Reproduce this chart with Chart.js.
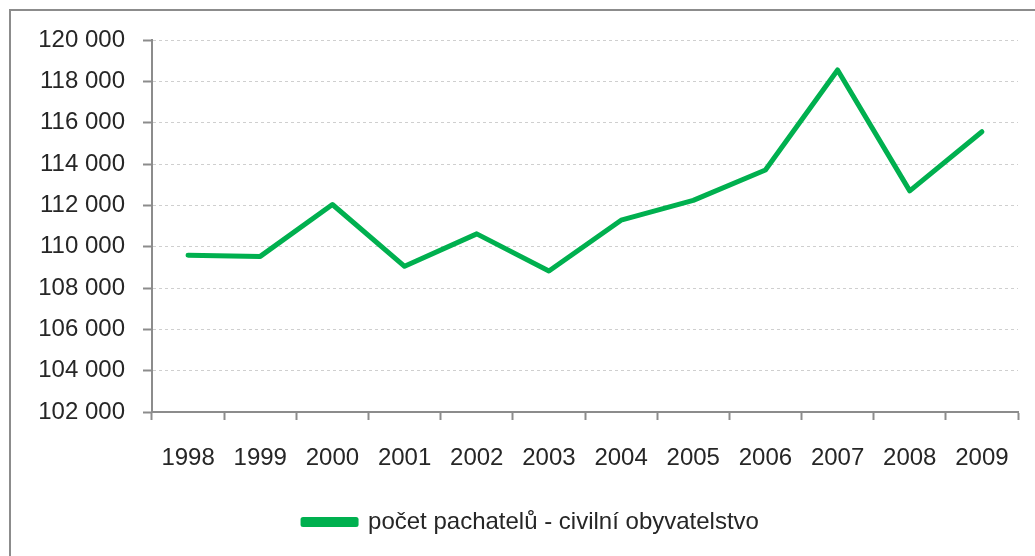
<!DOCTYPE html>
<html>
<head>
<meta charset="utf-8">
<script src="https://cdn.jsdelivr.net/npm/chart.js@4"></script>
<style>
  html, body { margin: 0; padding: 0; background: #fff; overflow: hidden; }
  #wrap { position: relative; width: 1035px; height: 556px; }
  #frame {
    position: absolute; left: 9px; top: 9px; width: 1100px; height: 600px;
    border: 2px solid #8c8c8c; box-sizing: border-box;
  }
  canvas { position: absolute; left: 0; top: 0; }
</style>
</head>
<body>
<div id="wrap">
  <div id="frame"></div>
  <canvas id="chart" width="1035" height="556"></canvas>
</div>
<script>
// data
const years = ['1998', '1999', '2000', '2001', '2002', '2003', '2004', '2005', '2006', '2007', '2008', '2009'];
const offenders = [109590, 109530, 112040, 109050, 110620, 108820, 111280, 112240, 113710, 118550, 112700, 115560];
const seriesLabel = 'počet pachatelů - civilní obyvatelstvo';
const yMin = 102000;
const yMax = 120000;
const yStep = 2000;

const fontFamily = '"Liberation Sans", Arial, sans-serif';
const textColor = '#262626';
const green = '#00b04f';

// cisla s mezerou jako oddelovacem tisicu
function formatThousands(v) {
  return String(v).replace(/\B(?=(\d{3})+(?!\d))/g, ' ');
}

// legenda je v originale trochu vpravo od stredu
const shiftLegend = {
  id: 'shiftLegend',
  afterLayout(chart) {
    chart.legend.left += 22;
    chart.legend.right += 22;
  }
};

const ctx = document.getElementById('chart').getContext('2d');
new Chart(ctx, {
  type: 'line',
  data: {
    labels: years,
    datasets: [{
      label: seriesLabel,
      data: offenders,
      borderColor: green,
      backgroundColor: green,
      borderWidth: 5,
      pointRadius: 0,
      pointHoverRadius: 0,
      tension: 0,
      borderJoinStyle: 'round',
      borderCapStyle: 'round'
    }]
  },
  plugins: [shiftLegend],
  options: {
    responsive: false,
    animation: false,
    devicePixelRatio: 1,
    layout: { padding: { left: 0, right: 17, top: 40, bottom: 12 } },
    scales: {
      x: {
        offset: true,
        grid: {
          offset: true,
          drawOnChartArea: false,
          drawTicks: true,
          tickLength: 8,
          tickColor: '#8c8c8c',
          tickWidth: 2
        },
        border: { color: '#8c8c8c', width: 2 },
        ticks: {
          color: textColor,
          padding: 24,
          maxRotation: 0,
          font: { family: fontFamily, size: 24 }
        },
        afterFit: (scale) => { scale.height = 88; }
      },
      y: {
        min: yMin,
        max: yMax,
        grid: {
          color: '#cfcfcf',
          lineWidth: 1,
          drawTicks: true,
          tickLength: 9,
          tickColor: '#8c8c8c',
          tickWidth: 2,
          tickBorderDash: []
        },
        // v4: border.dash kresli carkovane mrizky
        border: { color: '#8c8c8c', width: 2, dash: [3, 3] },
        ticks: {
          stepSize: yStep,
          color: textColor,
          padding: 18,
          font: { family: fontFamily, size: 24 },
          callback: (v) => formatThousands(v)
        },
        afterFit: (scale) => { scale.width = 152; }
      }
    },
    plugins: {
      tooltip: { enabled: false },
      legend: {
        position: 'bottom',
        labels: {
          color: textColor,
          boxWidth: 53,
          boxHeight: 5,
          padding: 10,
          font: { family: fontFamily, size: 24 }
        }
      }
    }
  }
});
</script>
</body>
</html>
